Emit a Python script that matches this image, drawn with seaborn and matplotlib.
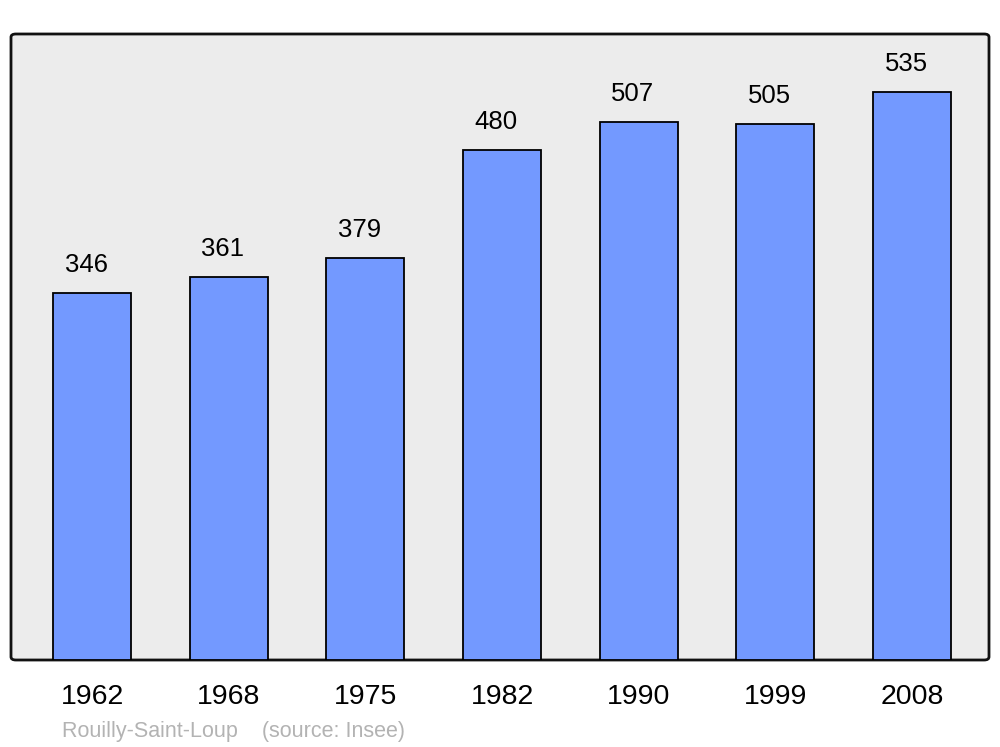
import seaborn as sns
import pandas as pd
import matplotlib.pyplot as plt
from matplotlib.patches import FancyBboxPatch

# data
years = ["1962", "1968", "1975", "1982", "1990", "1999", "2008"]
population = [346, 361, 379, 480, 507, 505, 535]

df = pd.DataFrame({"year": years, "pop": population})

sns.set_style("white")
plt.rcParams["font.family"] = ["Liberation Sans", "DejaVu Sans"]

fig = plt.figure(figsize=(10, 7.47), dpi=100)
ax = fig.add_axes([0.011, 1 - 660 / 747, 0.978, 626 / 747])
ax.set_facecolor("none")

# rounded grey frame behind the bars
frame = FancyBboxPatch((0, 0), 1, 1,
                       boxstyle="round,pad=0,rounding_size=0.005",
                       transform=ax.transAxes, facecolor="#ececec",
                       edgecolor="#111111", linewidth=2, zorder=0.5,
                       clip_on=False)
ax.add_patch(frame)

sns.barplot(data=df, x="year", y="pop", color="#7399ff", saturation=1,
            width=0.57, edgecolor="black", linewidth=1.3, ax=ax, zorder=2)

for i, v in enumerate(population):
    ax.annotate(str(v), (i, v), xytext=(-6, 28), textcoords="offset pixels",
                ha="center", va="center", fontsize=18.5, color="black")

ax.set_xlim(-0.593, 6.563)
ax.set_ylim(0, 589.6)
ax.set_xlabel("")
ax.set_ylabel("")
ax.set_yticks([])
ax.tick_params(axis="x", length=0, labelsize=20.5, pad=17, labelcolor="black")
for lab in ax.get_xticklabels():
    lab.set_x(lab.get_position()[0])
for s in ax.spines.values():
    s.set_visible(False)

fig.text(0.062, 1 - 731 / 747, "Rouilly-Saint-Loup    (source: Insee)",
         color="#b3b3b3", fontsize=15.5, va="center", ha="left")

fig.savefig("out.png", dpi=100)
